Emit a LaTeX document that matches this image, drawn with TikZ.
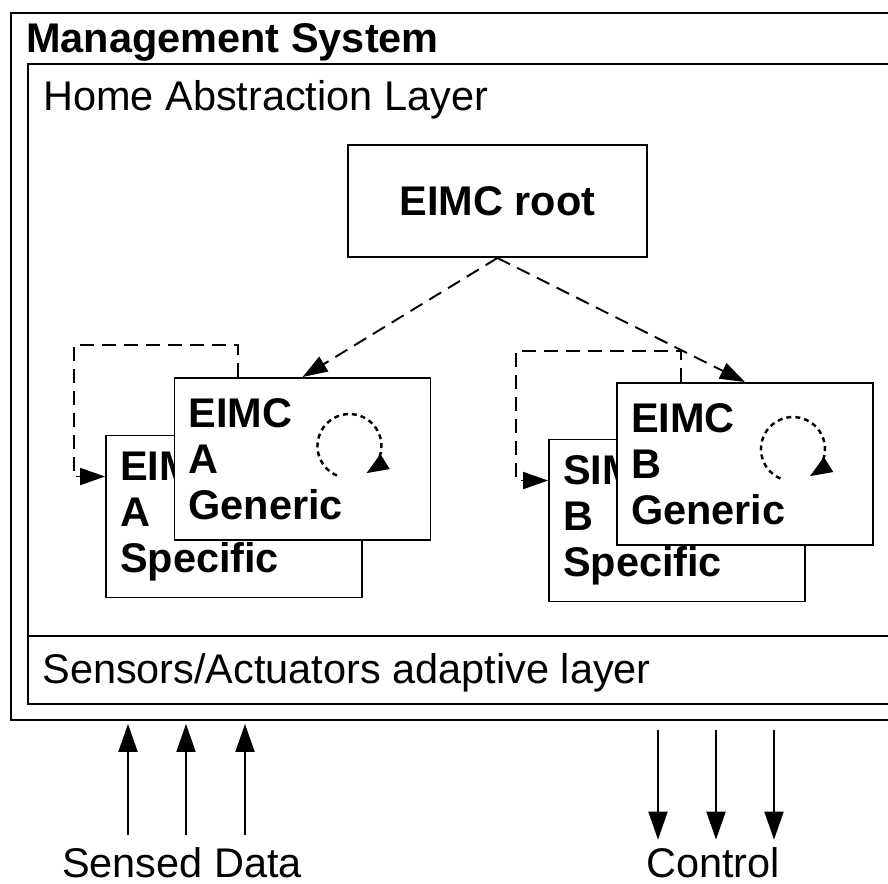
\documentclass[tikz,border=0pt]{standalone}
\usepackage{fontspec}
\setmainfont{Liberation Sans}
\usetikzlibrary{arrows.meta}
\newcommand\dfont{\fontsize{23.6}{26.1}\selectfont}

\begin{document}
\begin{tikzpicture}[x=0.02cm, y=-0.02cm,
  every node/.style={font=\dfont},
  layer/.style={draw, line width=1.1pt, minimum width=17.54cm},
  title/.style={anchor=base west, inner sep=0pt},
  caption/.style={anchor=base, inner sep=0pt},
  block/.style={draw, line width=1.1pt, fill=white, minimum width=5.12cm, minimum height=3.24cm,
    text width=4.56cm, inner xsep=0.28cm, align=left, font=\dfont\bfseries},
  link/.style={line width=1.1pt, dash pattern=on 0.28cm off 0.16cm, -{Triangle[length=0.5cm,width=0.34cm]}},
  loopdots/.style={line width=1.4pt, dash pattern=on 0.1cm off 0.08cm, -{Triangle[length=0.44cm,width=0.34cm]}},
  flow/.style={line width=1.1pt, -{Triangle[length=0.56cm,width=0.38cm]}}]
\useasboundingbox (0,0) rectangle (888,883);
\clip (0,0) rectangle (888,883);

% frames
\node[draw, line width=1.1pt, minimum width=17.88cm, minimum height=14.14cm] (ms) at (458,366.5) {};
\node[layer, minimum height=11.44cm] (hal) at (466.5,350) {};
\node[layer, minimum height=1.36cm] (sal) at (466.5,670) {};
\node[title, font=\dfont\bfseries] (mstitle) at (26,52) {Management System};
\node[title] (haltitle) at (43,110) {Home Abstraction Layer};
\node[title] (saltitle) at (42,683) {Sensors/Actuators adaptive layer};

% controllers
\node[draw, line width=1.1pt, minimum width=5.98cm, minimum height=2.24cm, font=\dfont\bfseries] (root) at (497.5,201) {EIMC root};
\node[block] (specA) at (234,516.5) {EIMC\\A\\Specific};
\node[block] (genA) at (302.5,459) {EIMC\\A\\Generic};
\node[block] (specB) at (677,520.5) {SIMC\\B\\Specific};
\node[block] (genB) at (745,464) {EIMC\\B\\Generic};

\draw[link] (root.south) -- (genA.north);
\draw[link] (root.south) -- (genB.north);
\draw[link] ([xshift=1.28cm]genA.north west) -- ++(0,-32) -- ++(-164,0) |- ([yshift=0.8cm]specA.west);
\draw[link] ([xshift=1.3cm]genB.north west) -- ++(0,-31) -- ++(-165,0) |- ([yshift=0.8cm]specB.west);

% self loops
\coordinate (cA) at ([xshift=-1.64cm,yshift=-1.38cm]genA.north east);
\coordinate (cB) at ([xshift=-1.62cm,yshift=-1.34cm]genB.north east);
\draw[loopdots] (cA) ++(247:0.64cm) arc[start angle=247, end angle=-58, radius=0.64cm];
\draw[loopdots] (cB) ++(247:0.64cm) arc[start angle=247, end angle=-58, radius=0.64cm];

% inputs and outputs
\node[caption] (sensed) at (182,877) {Sensed Data};
\node[caption] (control) at (713,877) {Control};
\foreach \x in {128,186,245}
  \draw[flow, shorten <=0.24cm, shorten >=0.06cm] (\x,0 |- sensed.north) -- (\x,0 |- ms.south);
\foreach \x in {658,716,774}
  \draw[flow, shorten <=0.18cm, shorten >=0.14cm] (\x,0 |- ms.south) -- (\x,0 |- control.north);
\end{tikzpicture}
\end{document}
